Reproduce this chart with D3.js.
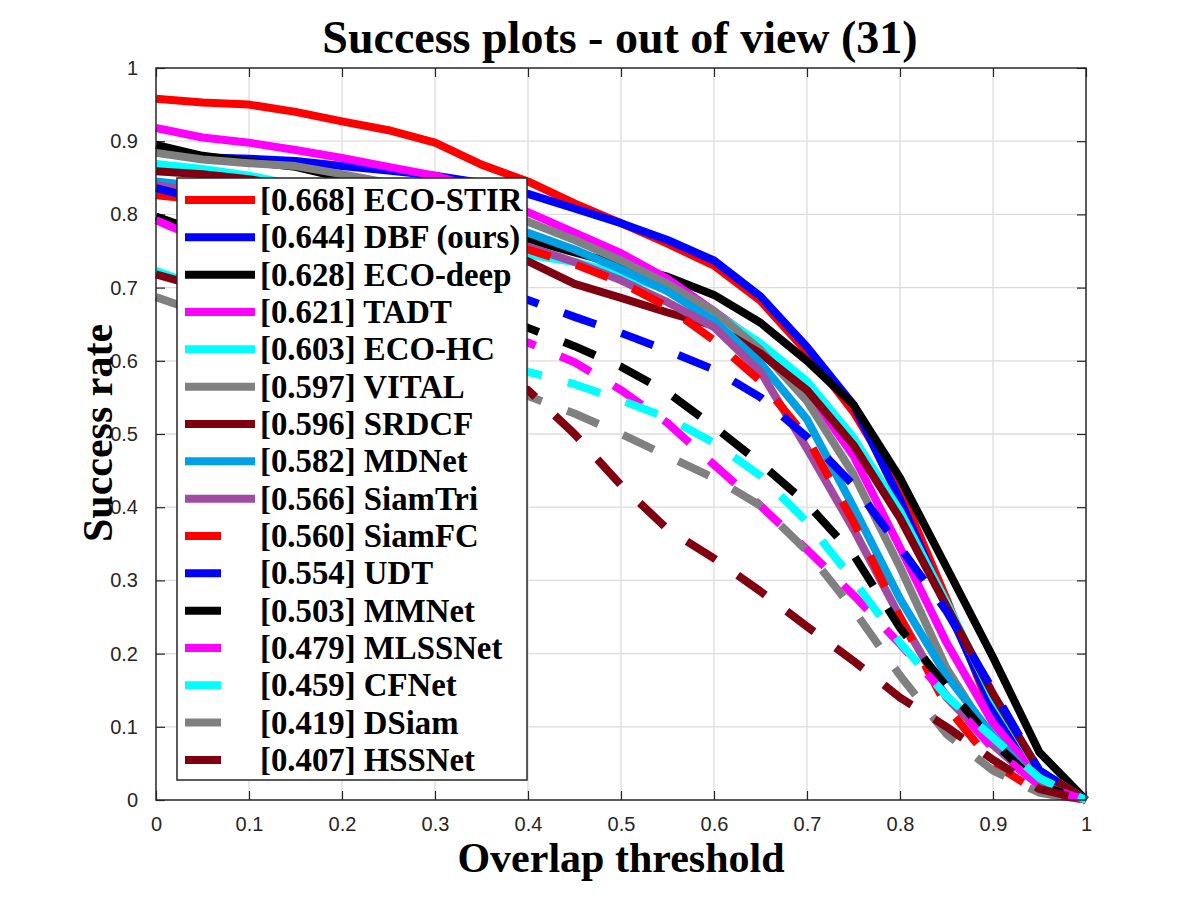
<!DOCTYPE html>
<html lang="en">
<head>
  <meta charset="UTF-8">
  <title>Success plots - out of view (31)</title>
  <script src="https://d3js.org/d3.v7.min.js"></script>
  <style>
    body, html { margin: 0; padding: 0; background: #fff; }
    svg { display: block; }
    .tick-label { font-family: "Liberation Sans", Arial, sans-serif; font-size: 20px; fill: #262626; }
    .serif { font-family: "Liberation Serif", "Times New Roman", serif; font-weight: bold; fill: #000; }
  </style>
</head>
<body>
  <svg id="chart" width="1200" height="900"></svg>

  <script>
    // Overlap thresholds (x)
    const thresholds = [0, 0.05, 0.1, 0.15, 0.2, 0.25, 0.3, 0.35, 0.4, 0.45, 0.5,
                        0.55, 0.6, 0.65, 0.7, 0.75, 0.8, 0.85, 0.9, 0.95, 1];
    const xTicks = [0, 0.1, 0.2, 0.3, 0.4, 0.5, 0.6, 0.7, 0.8, 0.9, 1];
    const yTicks = [0, 0.1, 0.2, 0.3, 0.4, 0.5, 0.6, 0.7, 0.8, 0.9, 1];

    // Tracker names and AUC scores, in legend order
    const trackerNames = ['ECO-STIR', 'DBF (ours)', 'ECO-deep', 'TADT', 'ECO-HC', 'VITAL', 'SRDCF', 'MDNet',
                          'SiamTri', 'SiamFC', 'UDT', 'MMNet', 'MLSSNet', 'CFNet', 'DSiam', 'HSSNet'];
    const trackerScores = [0.668, 0.644, 0.628, 0.621, 0.603, 0.597, 0.596, 0.582,
                           0.566, 0.560, 0.554, 0.503, 0.479, 0.459, 0.419, 0.407];

    // Success rate per threshold
    const ecoStir = [0.958,0.953,0.950,0.940,0.927,0.915,0.898,0.868,0.845,0.815,0.788,0.760,0.730,0.682,0.612,0.530,0.425,0.275,0.115,0.030,0];
    const dbf     = [0.885,0.878,0.876,0.873,0.866,0.860,0.853,0.843,0.828,0.808,0.788,0.765,0.737,0.688,0.619,0.540,0.410,0.265,0.125,0.032,0];
    const ecoDeep = [0.895,0.880,0.872,0.865,0.850,0.835,0.818,0.793,0.766,0.748,0.731,0.715,0.690,0.652,0.600,0.540,0.440,0.318,0.195,0.065,0];
    const tadt    = [0.918,0.905,0.898,0.888,0.877,0.865,0.853,0.835,0.803,0.775,0.747,0.712,0.668,0.622,0.560,0.470,0.345,0.215,0.105,0.030,0];
    const ecoHc   = [0.869,0.862,0.853,0.840,0.828,0.815,0.800,0.775,0.745,0.735,0.718,0.697,0.666,0.624,0.572,0.495,0.395,0.270,0.140,0.040,0];
    const vital   = [0.884,0.875,0.870,0.866,0.855,0.843,0.830,0.812,0.790,0.765,0.737,0.705,0.668,0.615,0.545,0.445,0.318,0.180,0.080,0.020,0];
    const srdcf   = [0.859,0.855,0.848,0.838,0.825,0.805,0.785,0.760,0.736,0.705,0.686,0.666,0.648,0.610,0.560,0.485,0.385,0.265,0.145,0.040,0];
    const mdnet   = [0.845,0.838,0.830,0.822,0.815,0.808,0.800,0.790,0.775,0.752,0.725,0.695,0.655,0.597,0.520,0.400,0.275,0.170,0.088,0.020,0];
    const siamTri = [0.840,0.830,0.822,0.813,0.805,0.795,0.785,0.772,0.756,0.735,0.710,0.680,0.646,0.585,0.480,0.370,0.250,0.140,0.075,0.020,0];
    const siamFc  = [0.826,0.820,0.815,0.808,0.800,0.790,0.780,0.765,0.752,0.732,0.707,0.674,0.628,0.572,0.495,0.380,0.250,0.128,0.050,0.010,0];
    const udt     = [0.836,0.820,0.805,0.790,0.770,0.750,0.730,0.706,0.683,0.660,0.638,0.614,0.588,0.550,0.496,0.430,0.345,0.258,0.150,0.040,0];
    const mmnet   = [0.797,0.775,0.755,0.740,0.725,0.705,0.685,0.665,0.645,0.620,0.592,0.557,0.510,0.460,0.405,0.335,0.235,0.155,0.080,0.020,0];
    const mlssnet = [0.792,0.765,0.742,0.720,0.700,0.680,0.660,0.642,0.625,0.598,0.560,0.515,0.458,0.402,0.342,0.280,0.213,0.143,0.070,0.020,0];
    const cfnet   = [0.723,0.700,0.682,0.666,0.651,0.636,0.620,0.602,0.585,0.568,0.546,0.522,0.488,0.443,0.380,0.300,0.215,0.142,0.085,0.030,0];
    const dsiam   = [0.687,0.665,0.645,0.627,0.611,0.596,0.581,0.566,0.552,0.528,0.500,0.470,0.440,0.402,0.340,0.260,0.170,0.090,0.040,0.010,0];
    const hssnet  = [0.718,0.700,0.685,0.668,0.650,0.630,0.607,0.585,0.560,0.500,0.430,0.370,0.330,0.285,0.237,0.190,0.140,0.100,0.055,0.015,0];

    const seriesValues = [ecoStir, dbf, ecoDeep, tadt, ecoHc, vital, srdcf, mdnet,
                          siamTri, siamFc, udt, mmnet, mlssnet, cfnet, dsiam, hssnet];

    // Styles
    const lineColors = ['#ff0000', '#0000ff', '#000000', '#ff00ff', '#00ffff', '#808080', '#800012', '#00a0e4',
                        '#a04aa2', '#ff0000', '#0000ff', '#000000', '#ff00ff', '#00ffff', '#808080', '#800012'];
    const lineDashed = [false, false, false, false, false, false, false, false,
                        false, true, true, true, true, true, true, true];

    const svg = d3.select('#chart');
    const plot = { left: 156, right: 1086, top: 68, bottom: 800 };
    const axisColor = '#262626';

    const x = d3.scaleLinear().domain([0, 1]).range([plot.left, plot.right]);
    const y = d3.scaleLinear().domain([0, 1]).range([plot.bottom, plot.top]);

    // Grid
    const grid = svg.append('g').attr('stroke', '#dcdcdc').attr('stroke-width', 1.3);
    grid.selectAll('line.gx').data(xTicks.slice(1, -1)).enter().append('line')
      .attr('x1', d => x(d)).attr('x2', d => x(d)).attr('y1', plot.top).attr('y2', plot.bottom);
    grid.selectAll('line.gy').data(yTicks.slice(1, -1)).enter().append('line')
      .attr('y1', d => y(d)).attr('y2', d => y(d)).attr('x1', plot.left).attr('x2', plot.right);

    // Axes (MATLAB style: ticks inside, on all four sides)
    const tickLen = 9;
    const axisStyle = g => {
      g.select('.domain').remove();
      g.selectAll('.tick line').attr('stroke', axisColor).attr('stroke-width', 1.2);
      g.selectAll('.tick text').attr('class', 'tick-label').attr('font-size', null).attr('font-family', null);
    };
    svg.append('g').attr('transform', `translate(0,${plot.bottom})`)
      .call(d3.axisBottom(x).tickValues(xTicks).tickFormat(d3.format('')).tickSizeInner(-tickLen).tickPadding(17))
      .call(axisStyle);
    svg.append('g').attr('transform', `translate(0,${plot.top})`)
      .call(d3.axisTop(x).tickValues(xTicks).tickFormat('').tickSizeInner(-tickLen))
      .call(axisStyle);
    svg.append('g').attr('transform', `translate(${plot.left},0)`)
      .call(d3.axisLeft(y).tickValues(yTicks).tickFormat(d3.format('')).tickSizeInner(-tickLen).tickPadding(18))
      .call(axisStyle);
    svg.append('g').attr('transform', `translate(${plot.right},0)`)
      .call(d3.axisRight(y).tickValues(yTicks).tickFormat('').tickSizeInner(-tickLen))
      .call(axisStyle);

    // Curves
    const line = d3.line().x((d, i) => x(thresholds[i])).y(d => y(d));
    const curves = svg.append('g').attr('fill', 'none');
    seriesValues.forEach((vals, k) => {
      curves.append('path')
        .attr('d', line(vals))
        .attr('stroke', lineColors[k])
        .attr('stroke-width', 8)
        .attr('stroke-linejoin', 'round')
        .attr('stroke-dasharray', lineDashed[k] ? '34,27' : null);
    });

    // Box
    svg.append('rect')
      .attr('x', plot.left).attr('y', plot.top)
      .attr('width', plot.right - plot.left).attr('height', plot.bottom - plot.top)
      .attr('fill', 'none').attr('stroke', axisColor).attr('stroke-width', 1.5);

    // Legend
    const legend = { left: 177, top: 178, width: 350, height: 602, rowStart: 200, rowStep: 37.33 };
    const lg = svg.append('g');
    lg.append('rect')
      .attr('x', legend.left).attr('y', legend.top)
      .attr('width', legend.width).attr('height', legend.height)
      .attr('fill', '#fff').attr('stroke', axisColor).attr('stroke-width', 1.5);
    trackerNames.forEach((name, k) => {
      const cy = legend.rowStart + k * legend.rowStep;
      lg.append('line')
        .attr('x1', 185).attr('x2', 255).attr('y1', cy).attr('y2', cy)
        .attr('stroke', lineColors[k]).attr('stroke-width', 8)
        .attr('stroke-dasharray', lineDashed[k] ? '36,40' : null);
      lg.append('text')
        .attr('class', 'serif')
        .attr('x', 260).attr('y', cy + 11)
        .attr('font-size', 32.8)
        .text(`[${trackerScores[k].toFixed(3)}] ${name}`);
    });

    // Title and axis labels
    svg.append('text').attr('class', 'serif')
      .attr('x', 620).attr('y', 53).attr('text-anchor', 'middle').attr('font-size', 46)
      .text('Success plots - out of view (31)');
    svg.append('text').attr('class', 'serif')
      .attr('x', 621).attr('y', 872).attr('text-anchor', 'middle').attr('font-size', 42)
      .text('Overlap threshold');
    svg.append('text').attr('class', 'serif')
      .attr('transform', 'translate(112,433) rotate(-90)').attr('text-anchor', 'middle').attr('font-size', 42)
      .text('Success rate');
  </script>
</body>
</html>
